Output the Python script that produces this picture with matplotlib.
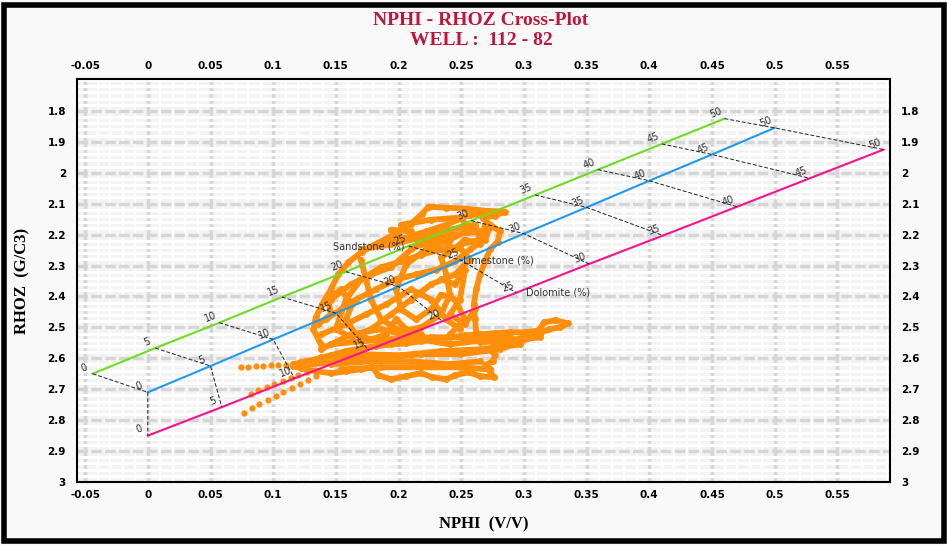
import numpy as np
import matplotlib
matplotlib.use('Agg')
import matplotlib.pyplot as plt
from matplotlib.ticker import MultipleLocator, FuncFormatter
from matplotlib.patches import Rectangle

# Porosidad (%) en cada linea de litologia
porosidad = [0, 5, 10, 15, 20, 25, 30, 35, 40, 45, 50]

# Lineas de litologia (NPHI, RHOZ)
ss_nphi = [-0.044, 0.006, 0.057, 0.107, 0.158, 0.208, 0.258, 0.309, 0.359, 0.410, 0.460]
ss_rhoz = [2.650, 2.567, 2.485, 2.402, 2.320, 2.237, 2.155, 2.072, 1.990, 1.907, 1.825]
ls_nphi = [0.000, 0.050, 0.100, 0.150, 0.200, 0.250, 0.300, 0.350, 0.400, 0.450, 0.500]
ls_rhoz = [2.710, 2.625, 2.539, 2.454, 2.368, 2.283, 2.197, 2.112, 2.026, 1.941, 1.855]
dol_nphi = [0.000, 0.059, 0.117, 0.176, 0.235, 0.294, 0.352, 0.411, 0.470, 0.528, 0.587]
dol_rhoz = [2.850, 2.758, 2.665, 2.573, 2.480, 2.388, 2.295, 2.203, 2.110, 2.018, 1.925]

# Datos del pozo (trazos)
cola_nphi = [0.074, 0.080, 0.086, 0.092, 0.098, 0.104, 0.110, 0.116]
cola_rhoz = [2.629, 2.628, 2.626, 2.625, 2.623, 2.623, 2.623, 2.620]

banda_nphi = [0.116, 0.122, 0.134, 0.146, 0.158, 0.170, 0.182, 0.194, 0.206,
              0.218, 0.230, 0.241, 0.253, 0.265, 0.277, 0.289, 0.301, 0.312, 0.316, 0.325, 0.335,
              0.329, 0.320, 0.313, 0.301, 0.289, 0.277, 0.273, 0.277, 0.275, 0.269, 0.273, 0.276,
              0.265, 0.256, 0.245, 0.238, 0.227, 0.218, 0.206, 0.194, 0.184, 0.179, 0.170, 0.158,
              0.146, 0.134, 0.122, 0.116]
banda_rhoz = [2.620, 2.613, 2.603, 2.590, 2.577, 2.568, 2.561, 2.555, 2.552,
              2.545, 2.539, 2.532, 2.526, 2.523, 2.519, 2.516, 2.516, 2.510, 2.484, 2.477, 2.487,
              2.500, 2.506, 2.519, 2.532, 2.542, 2.555, 2.571, 2.590, 2.610, 2.623, 2.642, 2.661,
              2.658, 2.645, 2.655, 2.668, 2.661, 2.648, 2.658, 2.668, 2.655, 2.629, 2.636, 2.642,
              2.648, 2.642, 2.632, 2.625]

fila1_nphi = [0.077, 0.083, 0.089, 0.096, 0.102, 0.108, 0.115, 0.121, 0.128, 0.134]
fila1_rhoz = [2.777, 2.761, 2.748, 2.735, 2.723, 2.710, 2.697, 2.684, 2.671, 2.658]
fila2_nphi = [0.082, 0.088, 0.095, 0.101, 0.108, 0.114, 0.120, 0.127, 0.133]
fila2_rhoz = [2.716, 2.703, 2.694, 2.684, 2.674, 2.665, 2.655, 2.645, 2.639]

nube_nphi = [0.138, 0.132, 0.134, 0.139, 0.146, 0.152, 0.160, 0.171, 0.184, 0.198, 0.210, 0.219,
             0.224, 0.238, 0.253, 0.269, 0.285, 0.277, 0.267, 0.273, 0.281, 0.279, 0.273, 0.269,
             0.265, 0.262, 0.260, 0.261, 0.262]
nube_rhoz = [2.555, 2.506, 2.468, 2.426, 2.377, 2.329, 2.290, 2.255, 2.226, 2.197, 2.165, 2.132,
             2.110, 2.113, 2.116, 2.123, 2.126, 2.139, 2.145, 2.168, 2.190, 2.223, 2.248, 2.287,
             2.329, 2.377, 2.426, 2.474, 2.516]

lazo1_nphi = [0.150, 0.158, 0.170, 0.186, 0.202, 0.218, 0.234, 0.249, 0.257, 0.245, 0.226, 0.210,
              0.194, 0.178, 0.162, 0.150]
lazo1_rhoz = [2.506, 2.410, 2.345, 2.306, 2.287, 2.265, 2.248, 2.242, 2.281, 2.329, 2.361, 2.410,
              2.458, 2.506, 2.532, 2.506]
lazo2_nphi = [0.170, 0.194, 0.218, 0.241, 0.261, 0.265, 0.249, 0.234, 0.238, 0.241, 0.234, 0.218,
              0.202, 0.186, 0.178, 0.174, 0.170]
lazo2_rhoz = [2.248, 2.232, 2.210, 2.184, 2.168, 2.216, 2.232, 2.274, 2.329, 2.394, 2.458, 2.500,
              2.513, 2.474, 2.410, 2.345, 2.281]
lazo3_nphi = [0.202, 0.226, 0.249, 0.257, 0.241, 0.222, 0.206, 0.198, 0.202, 0.214, 0.226, 0.234,
              0.245, 0.253, 0.241]
lazo3_rhoz = [2.168, 2.152, 2.145, 2.184, 2.216, 2.248, 2.297, 2.377, 2.442, 2.474, 2.442, 2.394,
              2.410, 2.474, 2.523]
lazo4_nphi = [0.142, 0.154, 0.166, 0.182, 0.198, 0.214, 0.230, 0.245, 0.257, 0.269, 0.273]
lazo4_rhoz = [2.474, 2.442, 2.410, 2.377, 2.345, 2.329, 2.313, 2.287, 2.248, 2.216, 2.177]
lazo5_nphi = [0.146, 0.162, 0.178, 0.194, 0.210, 0.226, 0.245, 0.265]
lazo5_rhoz = [2.410, 2.361, 2.329, 2.306, 2.248, 2.216, 2.200, 2.190]
lazo6_nphi = [0.138, 0.158, 0.174, 0.190, 0.210, 0.226, 0.238, 0.249]
lazo6_rhoz = [2.523, 2.490, 2.458, 2.426, 2.377, 2.410, 2.474, 2.506]
lazo7_nphi = [0.190, 0.206, 0.222, 0.238, 0.257, 0.273]
lazo7_rhoz = [2.216, 2.210, 2.190, 2.168, 2.136, 2.136]
lazo8_nphi = [0.136, 0.146, 0.144, 0.154, 0.163, 0.158, 0.166, 0.178, 0.190, 0.198, 0.206, 0.218]
lazo8_rhoz = [2.490, 2.458, 2.410, 2.377, 2.426, 2.474, 2.523, 2.539, 2.523, 2.474, 2.506, 2.523]
lazo9_nphi = [0.194, 0.210, 0.218, 0.234, 0.245, 0.253, 0.265, 0.269]
lazo9_rhoz = [2.184, 2.190, 2.232, 2.216, 2.248, 2.216, 2.232, 2.168]
lazo10_nphi = [0.234, 0.245, 0.253, 0.249, 0.241, 0.253, 0.261]
lazo10_rhoz = [2.345, 2.361, 2.313, 2.410, 2.458, 2.490, 2.442]
linea1_nphi = [0.138, 0.170, 0.202, 0.234, 0.265, 0.297]
linea1_rhoz = [2.597, 2.587, 2.590, 2.577, 2.571, 2.555]
linea2_nphi = [0.146, 0.178, 0.210, 0.241, 0.265]
linea2_rhoz = [2.619, 2.610, 2.610, 2.619, 2.610]
linea3_nphi = [0.122, 0.154, 0.186, 0.218, 0.249, 0.281, 0.313]
linea3_rhoz = [2.623, 2.610, 2.597, 2.587, 2.587, 2.571, 2.523]
linea4_nphi = [0.154, 0.186, 0.218, 0.249, 0.273]
linea4_rhoz = [2.636, 2.629, 2.629, 2.629, 2.636]
linea5_nphi = [0.146, 0.170, 0.194, 0.226, 0.253, 0.289]
linea5_rhoz = [2.555, 2.545, 2.539, 2.532, 2.532, 2.529]
linea6_nphi = [0.138, 0.162, 0.186, 0.218, 0.241, 0.273]
linea6_rhoz = [2.571, 2.523, 2.506, 2.539, 2.555, 2.539]
linea7_nphi = [0.265, 0.281, 0.297, 0.313]
linea7_rhoz = [2.548, 2.545, 2.539, 2.532]

naranja = '#FF8E0A'

fig = plt.figure(figsize=(9.47, 5.45), dpi=100, facecolor='#f9f9f9')
ax = fig.add_axes([0.0813, 0.1156, 0.8585, 0.7394])
ax.set_facecolor('#f3f3f3')
ax.set_xlim(-0.0565, 0.592)
ax.set_ylim(3.0, 1.697)

# Cuadricula
ax.xaxis.set_major_locator(MultipleLocator(0.05))
ax.yaxis.set_major_locator(MultipleLocator(0.1))
ax.xaxis.set_minor_locator(MultipleLocator(0.01))
ax.yaxis.set_minor_locator(MultipleLocator(0.02))
ax.grid(which='minor', axis='x', color='white', lw=1.3)
ax.grid(which='minor', axis='y', color='white', lw=2.2)
ax.grid(which='major', axis='x', color='#d6d6d6', lw=2.5)
ax.grid(which='major', axis='y', color='#d6d6d6', lw=2.5, ls=(0, (3, 1)))
ax.set_axisbelow(True)

fmt = FuncFormatter(lambda v, p: ('%g' % round(v, 2)))
ax.xaxis.set_major_formatter(fmt)
ax.yaxis.set_major_formatter(fmt)
ax.set_yticks([1.8, 1.9, 2.0, 2.1, 2.2, 2.3, 2.4, 2.5, 2.6, 2.7, 2.8, 2.9, 3.0])
ax.tick_params(which='both', length=0, labelsize=7.5, top=True, right=True,
               labeltop=True, labelright=True)
ax.tick_params(axis='x', pad=6)
ax.tick_params(axis='y', which='major', pad=8)
for lab in ax.get_xticklabels() + ax.get_yticklabels():
    lab.set_fontweight('bold')
for s in ax.spines.values():
    s.set_color('black')
    s.set_linewidth(1.5)

# Lineas de litologia
ax.plot(ss_nphi, ss_rhoz, color='#6ddc22', lw=1.5, zorder=3)
ax.plot(ls_nphi, ls_rhoz, color='#1e9bf0', lw=1.5, zorder=3)
ax.plot(dol_nphi, dol_rhoz, color='#f5148c', lw=1.5, zorder=3)
for i in range(len(porosidad)):
    ax.plot([ss_nphi[i], ls_nphi[i], dol_nphi[i]], [ss_rhoz[i], ls_rhoz[i], dol_rhoz[i]],
            color='#222222', lw=0.7, ls=(0, (4, 2)), zorder=3)

# Datos del pozo
trazos = [(banda_nphi, banda_rhoz), (nube_nphi, nube_rhoz), (lazo1_nphi, lazo1_rhoz),
          (lazo2_nphi, lazo2_rhoz), (lazo3_nphi, lazo3_rhoz), (lazo4_nphi, lazo4_rhoz),
          (lazo5_nphi, lazo5_rhoz), (lazo6_nphi, lazo6_rhoz), (lazo7_nphi, lazo7_rhoz),
          (lazo8_nphi, lazo8_rhoz), (lazo9_nphi, lazo9_rhoz), (lazo10_nphi, lazo10_rhoz),
          (linea1_nphi, linea1_rhoz), (linea2_nphi, linea2_rhoz), (linea3_nphi, linea3_rhoz),
          (linea4_nphi, linea4_rhoz), (linea5_nphi, linea5_rhoz), (linea6_nphi, linea6_rhoz),
          (linea7_nphi, linea7_rhoz)]
for xs, ys in trazos:
    ax.plot(xs, ys, '-o', color=naranja, lw=4.2, ms=5, mec='none', zorder=2,
            solid_capstyle='round', solid_joinstyle='round')
for xs, ys in [(fila1_nphi, fila1_rhoz), (fila2_nphi, fila2_rhoz), (cola_nphi, cola_rhoz)]:
    ax.plot(xs, ys, 'o', color=naranja, ms=4.5, mec='none', zorder=2)

# Etiquetas de porosidad
fig.canvas.draw()
for xs, ys in [(ss_nphi, ss_rhoz), (ls_nphi, ls_rhoz), (dol_nphi, dol_rhoz)]:
    p0 = ax.transData.transform((xs[0], ys[0]))
    p1 = ax.transData.transform((xs[-1], ys[-1]))
    ang = np.degrees(np.arctan2(p1[1] - p0[1], p1[0] - p0[0]))
    for i, p in enumerate(porosidad):
        ax.annotate(str(p), (xs[i], ys[i]), xytext=(-5, 1), textcoords='offset points',
                    fontsize=7, color='#333333', rotation=ang, rotation_mode='anchor',
                    ha='center', va='bottom', zorder=4)

ax.annotate('Sandstone (%)', (ss_nphi[5], ss_rhoz[5]), xytext=(-3, 0), textcoords='offset points',
            fontsize=7, color='#333333', ha='right', va='center', zorder=4)
ax.annotate('Limestone (%)', (ls_nphi[5], ls_rhoz[5]), xytext=(1, 0), textcoords='offset points',
            fontsize=7, color='#333333', ha='left', va='center', zorder=4)
ax.annotate('Dolomite (%)', (dol_nphi[5], dol_rhoz[5]), xytext=(7, 0), textcoords='offset points',
            fontsize=7, color='#333333', ha='left', va='center', zorder=4)

# Titulos
fig.text(0.508, 0.962, 'NPHI - RHOZ Cross-Plot', ha='center', va='center', fontsize=14,
         fontweight='bold', family='Liberation Serif', color='#c0143c')
fig.text(0.508, 0.926, 'WELL :  112 - 82', ha='center', va='center', fontsize=14,
         fontweight='bold', family='Liberation Serif', color='#c0143c')
fig.text(0.511, 0.037, 'NPHI  (V/V)', ha='center', va='center', fontsize=12,
         fontweight='bold', family='Liberation Serif')
fig.text(0.024, 0.484, 'RHOZ  (G/C3)', ha='center', va='center', fontsize=12, rotation=90,
         fontweight='bold', family='Liberation Serif')

# Marco negro
fig.patches.append(Rectangle((0.004, 0.007), 0.993, 0.983, transform=fig.transFigure,
                             fill=False, ec='black', lw=4))

fig.savefig('out.png', dpi=100, facecolor=fig.get_facecolor())
